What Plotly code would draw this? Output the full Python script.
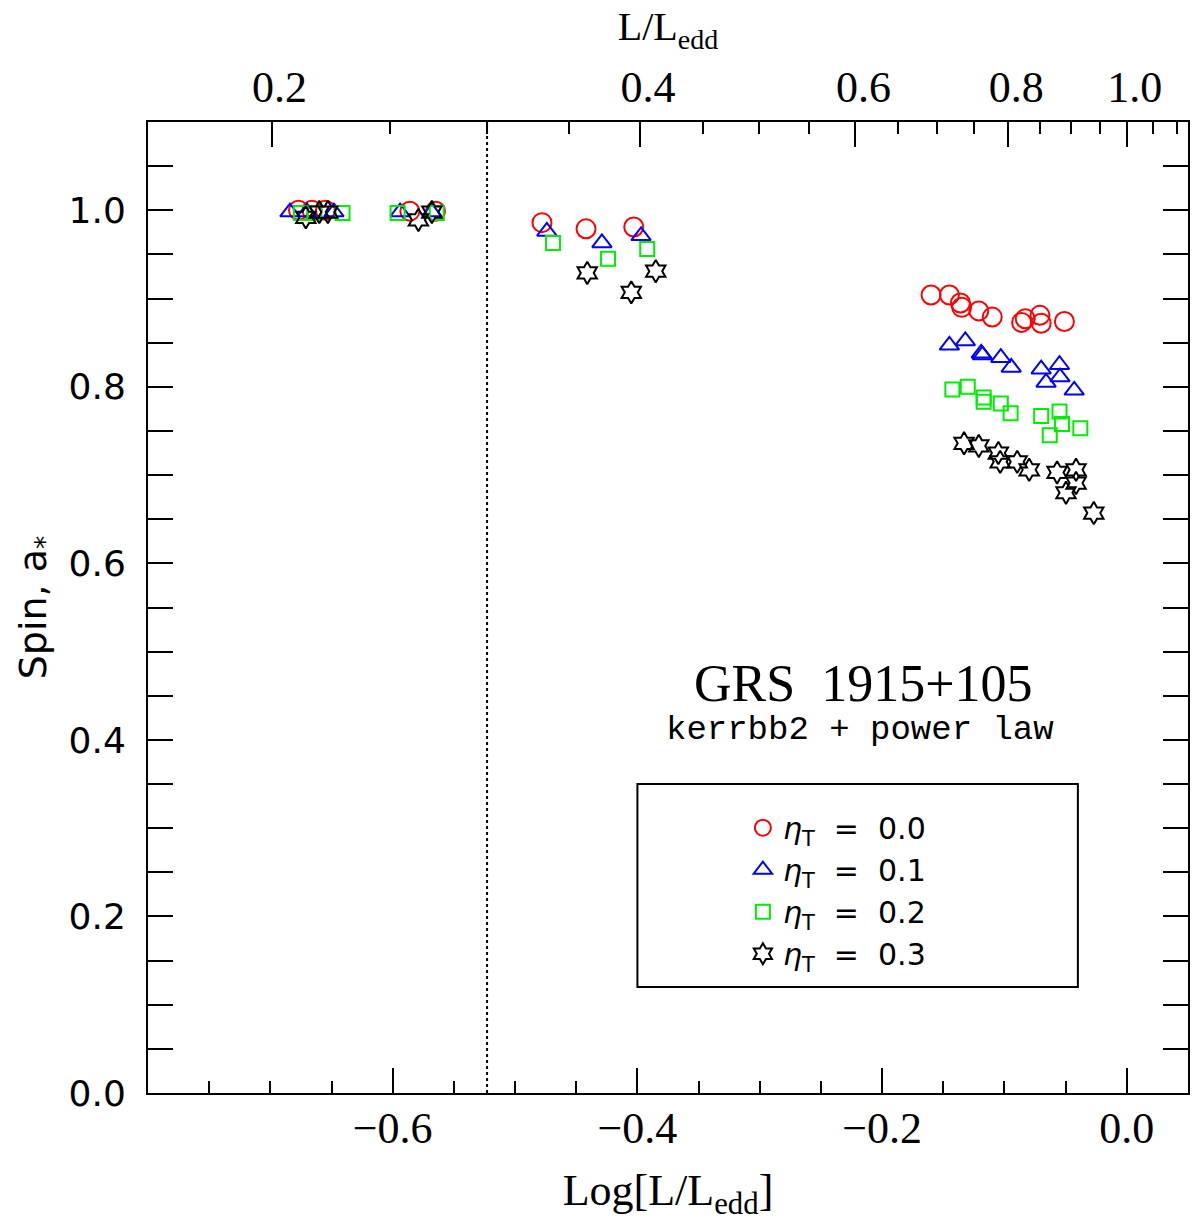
import numpy as np
import plotly.graph_objects as go

# ---- data ----
red_x = [-0.677, -0.666, -0.655, -0.586, -0.565, -0.478, -0.442, -0.403,
         -0.160, -0.145, -0.136, -0.135, -0.121, -0.110, -0.086, -0.083, -0.071, -0.070, -0.051]
red_y = [1.000, 1.000, 1.000, 0.999, 0.999, 0.986, 0.979, 0.981,
         0.904, 0.904, 0.895, 0.890, 0.886, 0.879, 0.873, 0.877, 0.881, 0.872, 0.874]

blue_x = [-0.684, -0.670, -0.648, -0.594, -0.568, -0.474, -0.429, -0.397,
          -0.145, -0.132, -0.119, -0.118, -0.103, -0.0945, -0.070, -0.055, -0.066, -0.0546, -0.043]
blue_y = [0.998, 0.998, 0.998, 0.998, 0.998, 0.976, 0.963, 0.971,
          0.847, 0.852, 0.838, 0.836, 0.833, 0.822, 0.820, 0.825, 0.805, 0.811, 0.796]

green_x = [-0.675, -0.664, -0.641, -0.596, -0.564, -0.469, -0.424, -0.392,
           -0.1426, -0.130, -0.117, -0.117, -0.103, -0.095, -0.070, -0.055, -0.053, -0.063, -0.038]
green_y = [0.997, 0.997, 0.997, 0.997, 0.997, 0.963, 0.945, 0.956,
           0.797, 0.800, 0.788, 0.783, 0.781, 0.770, 0.767, 0.772, 0.758, 0.745, 0.753]

star_x = [-0.671, -0.660, -0.653, -0.579, -0.568, -0.441, -0.405, -0.385,
          -0.133, -0.121, -0.105, -0.1035, -0.0896, -0.0798, -0.057, -0.0415, -0.0415, -0.0497, -0.027]
star_y = [0.992, 0.998, 0.998, 0.989, 0.998, 0.929, 0.907, 0.931,
          0.736, 0.733, 0.725, 0.715, 0.715, 0.706, 0.703, 0.706, 0.691, 0.680, 0.657]

series_names = ["<i>η</i><sub>T</sub>  =  0.0", "<i>η</i><sub>T</sub>  =  0.1",
                "<i>η</i><sub>T</sub>  =  0.2", "<i>η</i><sub>T</sub>  =  0.3"]

bottom_major = [-0.6, -0.4, -0.2, 0.0]
bottom_labels = ["\u22120.6", "\u22120.4", "\u22120.2", "0.0"]

top_major = [0.2, 0.4, 0.6, 0.8, 1.0]
top_major_labels = ["0.2", "0.4", "0.6", "0.8", "1.0"]
top_minor = [0.25, 0.3, 0.35, 0.45, 0.5, 0.55, 0.65, 0.7, 0.75, 0.85, 0.9, 0.95, 1.05, 1.1]

threshold_L = 0.3
x_range = [-0.8, 0.05]
y_range = [0.0, 1.1]

fig = go.Figure()

styles = [
    (red_x, red_y, "circle-open", "#ff0000", 19),
    (blue_x, blue_y, "triangle-up-open", "#0000ff", 17),
    (green_x, green_y, "square-open", "#00ee00", 14),
    (star_x, star_y, "hexagram-open", "#000000", 17),
]
for (xs, ys, sym, col, sz), name in zip(styles, series_names):
    fig.add_trace(go.Scatter(
        x=xs, y=ys, mode="markers", name=name,
        marker=dict(symbol=sym, size=sz, color=col, line=dict(color=col, width=2)),
    ))

# dotted threshold line at L/Ledd = 0.3, drawn on the top (L/Ledd) axis
fig.add_trace(go.Scatter(
    x=[np.log10(threshold_L)] * 2, y=y_range, xaxis="x2", yaxis="y",
    mode="lines", line=dict(color="black", width=2, dash="dot"),
    showlegend=False, hoverinfo="skip",
))

# legend box
fig.add_shape(type="rect", xref="x", yref="y", x0=-0.40, x1=-0.04, y0=0.12, y1=0.35,
              line=dict(color="black", width=2), fillcolor="rgba(0,0,0,0)")

fig.add_annotation(x=-0.216, y=0.464, xref="x", yref="y", text="GRS  1915+105",
                   showarrow=False, font=dict(family="Liberation Serif", size=52, color="black"))
fig.add_annotation(x=-0.218, y=0.411, xref="x", yref="y", text="kerrbb2 + power law",
                   showarrow=False, font=dict(family="Liberation Mono", size=34, color="black"))

axis_common = dict(showline=True, linewidth=2, linecolor="black", showgrid=False,
                   zeroline=False, ticks="inside", tickwidth=2, tickcolor="black", ticklen=25)

fig.update_layout(
    width=1193, height=1228,
    margin=dict(l=148, r=3, t=122, b=135),
    plot_bgcolor="white", paper_bgcolor="white",
    xaxis=dict(range=x_range, tickmode="array", tickvals=bottom_major, ticktext=bottom_labels,
               minor=dict(tick0=0, dtick=0.05, ticks="inside", ticklen=12, tickwidth=2, tickcolor="black"),
               tickfont=dict(family="Liberation Serif", size=44, color="black"),
               ticklabelstandoff=-5,
               title=dict(text="Log[L/L<sub>edd</sub>]", standoff=22,
                          font=dict(family="Liberation Serif", size=44, color="black")),
               **axis_common),
    xaxis2=dict(range=x_range, overlaying="x", side="top", anchor="y",
                tickmode="array", tickvals=list(np.log10(top_major)), ticktext=top_major_labels,
                minor=dict(tickmode="array", tickvals=list(np.log10(top_minor)), ticks="inside",
                           ticklen=12, tickwidth=2, tickcolor="black"),
                tickfont=dict(family="Liberation Serif", size=44, color="black"),
                ticklabelstandoff=0, ticklabelshift=8,
                title=dict(text="L/L<sub>edd</sub>", standoff=10,
                           font=dict(family="Liberation Serif", size=40, color="black")),
                **axis_common),
    yaxis=dict(range=y_range, tickmode="linear", tick0=0, dtick=0.2, tickformat=".1f",
               minor=dict(tick0=0, dtick=0.05, ticks="inside", ticklen=12, tickwidth=2, tickcolor="black"),
               mirror="allticks",
               tickfont=dict(family="DejaVu Sans", size=36, color="black"),
               ticklabelstandoff=13,
               title=dict(text="Spin, a<sub>*</sub>", standoff=10,
                          font=dict(family="DejaVu Sans", size=38, color="black")),
               **axis_common),
    legend=dict(x=0.572, y=0.30, xanchor="left", yanchor="top", bgcolor="rgba(0,0,0,0)",
                borderwidth=0, tracegroupgap=0,
                font=dict(family="DejaVu Sans", size=30, color="black")),
    showlegend=True,
)

fig.write_html("out.html")
